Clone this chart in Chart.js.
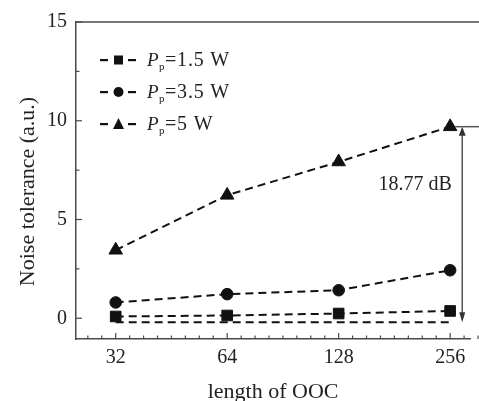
<!DOCTYPE html>
<html><head><meta charset="utf-8">
<script src="https://cdn.jsdelivr.net/npm/chart.js@4/dist/chart.umd.min.js"></script>
<style>html,body{margin:0;padding:0;background:#fff}#wrap{width:479px;height:401px}</style>
</head><body><div id="wrap"><canvas id="c" width="479" height="401"></canvas></div>
<script>
// ---- data ----
const lengths = [32, 64, 128, 256];
const tolP15 = [0.09, 0.14, 0.24, 0.37];
const tolP35 = [0.8, 1.22, 1.42, 2.43];
const tolP5 = [3.45, 6.23, 7.92, 9.7];
const refLengths = [32, 256];
const refLevel = [-0.2, -0.2];
const powerNames = ['1.5 W', '3.5 W', '5 W'];
const xTickValues = [32, 64, 128, 256];
const yTickValues = [0, 5, 10, 15];
const gapText = '18.77 dB';
const gapX = 276;          // x position (length) of the double arrow
const gapTop = 9.7;        // top of the arrow
const gapBottom = -0.2;    // bottom of the arrow
const textPos = [206, 6.75];

const INK = '#111';
const AXIS = '#4a4a4a';
const SERIF = '"Liberation Serif", "Times New Roman", serif';

function pts(xs, ys) { return xs.map((x, i) => ({x: x, y: ys[i]})); }
const common = {borderColor: INK, backgroundColor: INK, borderWidth: 2, borderDash: [8, 5],
  pointBorderWidth: 1, pointBorderColor: INK, pointBackgroundColor: INK, tension: 0, fill: false};

const datasets = [
  Object.assign({label: 'Pp=' + powerNames[0], data: pts(lengths, tolP15), pointStyle: 'rect', pointRadius: 7.5}, common),
  Object.assign({label: 'Pp=' + powerNames[1], data: pts(lengths, tolP35), pointStyle: 'circle', pointRadius: 5.8}, common),
  Object.assign({label: 'Pp=' + powerNames[2], data: pts(lengths, tolP5), pointStyle: 'triangle', pointRadius: 7.8}, common),
  Object.assign({label: 'ref', data: pts(refLengths, refLevel), pointRadius: 0}, common)
];

function drawMarker(ctx, style, x, y, s) {
  ctx.beginPath();
  if (style === 'rect') { ctx.rect(x - s / 2, y - s / 2, s, s); }
  else if (style === 'circle') { ctx.arc(x, y, s / 2, 0, Math.PI * 2); }
  else { const h = s * 0.9; ctx.moveTo(x, y - h / 2 - 1); ctx.lineTo(x + s / 2, y + h / 2); ctx.lineTo(x - s / 2, y + h / 2); ctx.closePath(); }
  ctx.fill();
}

const decor = {
  id: 'decor',
  afterDraw(chart) {
    const ctx = chart.ctx, a = chart.chartArea;
    const xs = chart.scales.x, ys = chart.scales.y;
    ctx.save();
    // top frame line
    ctx.strokeStyle = AXIS; ctx.lineWidth = 1.5;
    ctx.beginPath(); ctx.moveTo(a.left, a.top); ctx.lineTo(chart.width, a.top); ctx.stroke();
    // y ticks (inward)
    ctx.lineWidth = 1.2;
    yTickValues.forEach(v => { const p = ys.getPixelForValue(v); ctx.beginPath(); ctx.moveTo(a.left, p); ctx.lineTo(a.left + 6, p); ctx.stroke(); });
    for (let i = 0; i < yTickValues.length - 1; i++) {
      const p = ys.getPixelForValue((yTickValues[i] + yTickValues[i + 1]) / 2);
      ctx.beginPath(); ctx.moveTo(a.left, p); ctx.lineTo(a.left + 3.5, p); ctx.stroke();
    }
    // x ticks (inward)
    xTickValues.forEach(v => { const p = xs.getPixelForValue(v); ctx.beginPath(); ctx.moveTo(p, a.bottom); ctx.lineTo(p, a.bottom - 6); ctx.stroke(); });
    for (let k = -3; k <= 27; k++) {
      if (k % 8 === 0) continue;
      const v = 32 * Math.pow(2, k / 8);
      const p = xs.getPixelForValue(v);
      if (p <= a.left + 2 || p >= chart.width) continue;
      ctx.beginPath(); ctx.moveTo(p, a.bottom); ctx.lineTo(p, a.bottom - 3.5); ctx.stroke();
    }
    // double arrow
    const ax = xs.getPixelForValue(gapX), at = ys.getPixelForValue(gapTop), ab = ys.getPixelForValue(gapBottom);
    ctx.strokeStyle = '#555'; ctx.fillStyle = '#333'; ctx.lineWidth = 1.5;
    ctx.beginPath(); ctx.moveTo(ax, at + 6); ctx.lineTo(ax, ab - 8); ctx.stroke();
    ctx.beginPath(); ctx.moveTo(ax - 7, at); ctx.lineTo(chart.width, at); ctx.stroke();
    ctx.beginPath(); ctx.moveTo(ax, at); ctx.lineTo(ax - 3.5, at + 9); ctx.lineTo(ax + 3.5, at + 9); ctx.closePath(); ctx.fill();
    ctx.beginPath(); ctx.moveTo(ax, ab); ctx.lineTo(ax - 3, ab - 10); ctx.lineTo(ax + 3, ab - 10); ctx.closePath(); ctx.fill();
    // gap text
    ctx.fillStyle = '#222'; ctx.font = '20px ' + SERIF; ctx.textAlign = 'center'; ctx.textBaseline = 'middle';
    ctx.fillText(gapText, xs.getPixelForValue(textPos[0]), ys.getPixelForValue(textPos[1]));
    // legend
    const styles = ['rect', 'circle', 'triangle'];
    const sizes = [9, 10, 11];
    const rows = [60, 92, 124];
    styles.forEach((st, i) => {
      const y = rows[i];
      ctx.fillStyle = INK; ctx.fillRect(100, y - 1, 8, 2.2); ctx.fillRect(128, y - 1, 8, 2.2);
      drawMarker(ctx, st, 118.5, y, sizes[i]);
      ctx.fillStyle = '#222'; ctx.textAlign = 'left'; ctx.textBaseline = 'alphabetic';
      ctx.font = 'italic 19px ' + SERIF; ctx.fillText('P', 147, y + 6);
      ctx.font = '11px ' + SERIF; ctx.fillText('p', 159, y + 10);
      ctx.font = '20px ' + SERIF; ctx.letterSpacing = '0.8px'; ctx.fillText('=' + powerNames[i], 165, y + 6);
      ctx.letterSpacing = '0px';
    });
    ctx.restore();
  }
};

new Chart(document.getElementById('c'), {
  type: 'line',
  data: {datasets: datasets},
  options: {
    responsive: false, animation: false,
    layout: {padding: {top: 22, right: 0, bottom: 0, left: 0}},
    plugins: {legend: {display: false}, tooltip: {enabled: false}},
    scales: {
      x: {
        type: 'logarithmic', min: 25, max: 290,
        afterBuildTicks: s => { s.ticks = xTickValues.map(v => ({value: v})); },
        afterFit: s => { s.height = 62; },
        ticks: {callback: v => String(v), autoSkip: false, maxRotation: 0, padding: 7, color: '#222', font: {family: SERIF, size: 20}},
        grid: {display: false, drawTicks: false},
        border: {display: true, color: AXIS, width: 1.5},
        title: {display: true, text: 'length of OOC', color: '#222', font: {family: SERIF, size: 22}, padding: {top: 0, bottom: -4}}
      },
      y: {
        min: -1.05, max: 15,
        afterBuildTicks: s => { s.ticks = yTickValues.map(v => ({value: v})); },
        afterFit: s => { s.width = 76; },
        ticks: {padding: 9, color: '#222', font: {family: SERIF, size: 20}},
        grid: {display: false, drawTicks: false},
        border: {display: true, color: AXIS, width: 1.5},
        title: {display: true, text: 'Noise tolerance (a.u.)    ', color: '#222', font: {family: SERIF, size: 22}, padding: {top: 15, bottom: 0}}
      }
    }
  },
  plugins: [decor]
});
</script></body></html>
